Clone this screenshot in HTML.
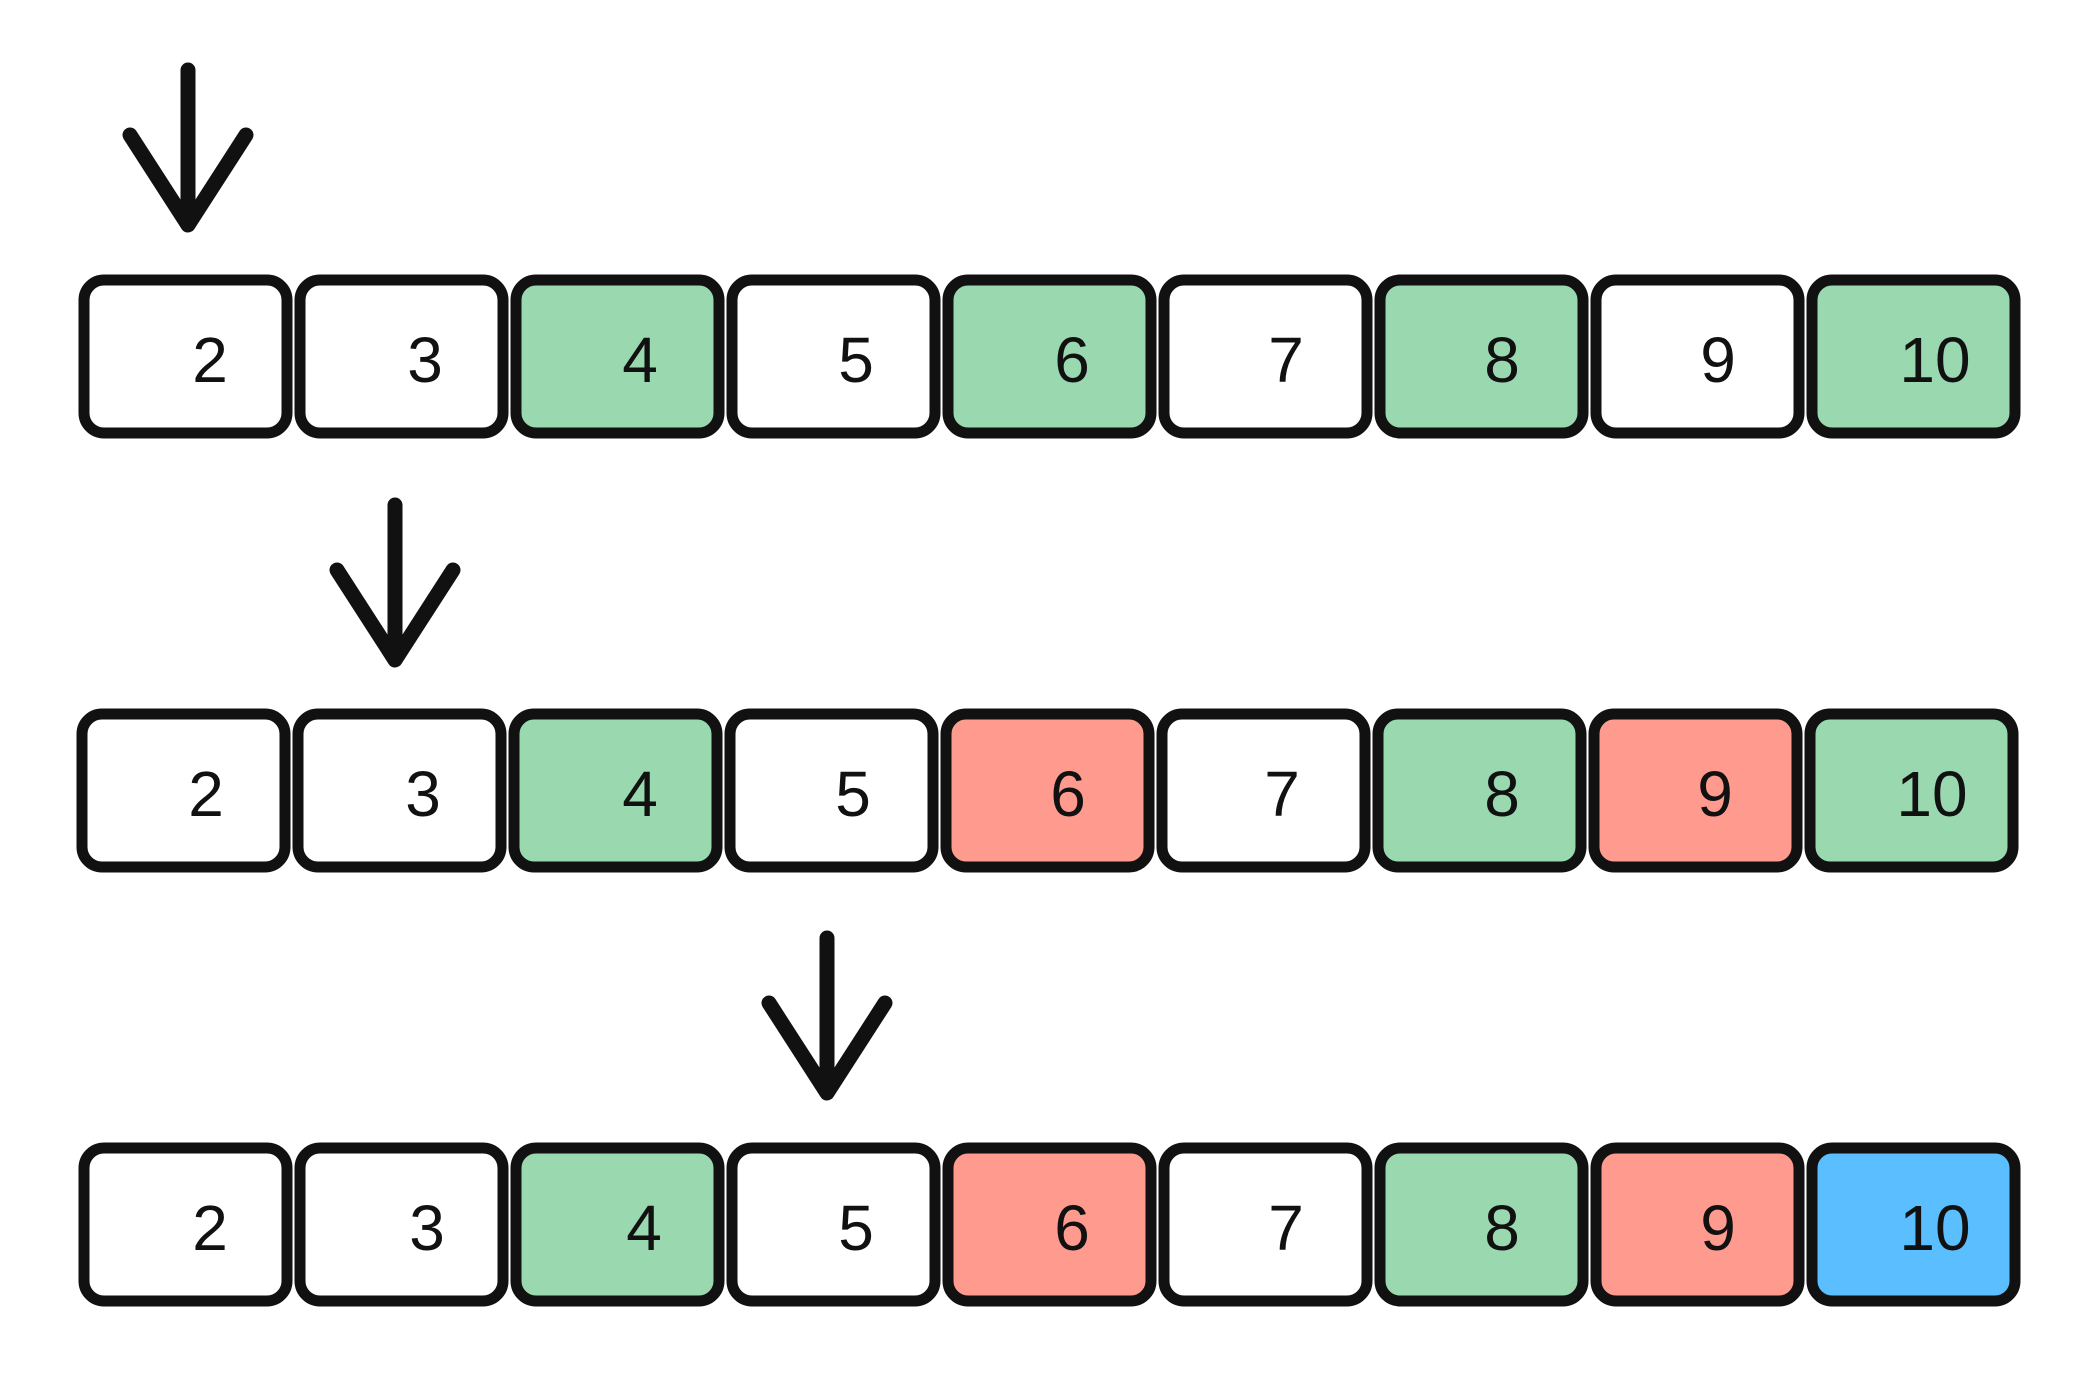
<!DOCTYPE html>
<html><head><meta charset="utf-8"><style>
html,body{margin:0;padding:0;background:#fff;}
svg{display:block;}
text{font-family:"Liberation Sans",sans-serif;font-size:64px;fill:#111;}
</style></head><body>
<svg width="2079" height="1378" viewBox="0 0 2079 1378" xmlns="http://www.w3.org/2000/svg">
<defs>
<g id="arrow" fill="none" stroke="#111" stroke-width="15" stroke-linecap="round" stroke-linejoin="round">
<line x1="0" y1="0" x2="0" y2="150"/>
<polyline points="-58,65 0,155 58,65"/>
</g>
</defs>
<use href="#arrow" x="188" y="70"/>
<use href="#arrow" x="395" y="505"/>
<use href="#arrow" x="827" y="938"/>
<!-- Row 1 -->
<g stroke="#111" stroke-width="11">
<rect x="84" y="280" width="203" height="153" rx="20" fill="#fff"/>
<rect x="300" y="280" width="203" height="153" rx="20" fill="#fff"/>
<rect x="516" y="280" width="203" height="153" rx="20" fill="#9ad8b0"/>
<rect x="732" y="280" width="203" height="153" rx="20" fill="#fff"/>
<rect x="948" y="280" width="203" height="153" rx="20" fill="#9ad8b0"/>
<rect x="1164" y="280" width="203" height="153" rx="20" fill="#fff"/>
<rect x="1380" y="280" width="203" height="153" rx="20" fill="#9ad8b0"/>
<rect x="1596" y="280" width="203" height="153" rx="20" fill="#fff"/>
<rect x="1812" y="280" width="203" height="153" rx="20" fill="#9ad8b0"/>
</g>
<g text-anchor="middle">
<text x="210" y="382">2</text><text x="425" y="382">3</text><text x="640" y="382">4</text>
<text x="856" y="382">5</text><text x="1072" y="382">6</text><text x="1286" y="382">7</text>
<text x="1502" y="382">8</text><text x="1718" y="382">9</text><text x="1935" y="382">10</text>
</g>
<!-- Row 2 -->
<g stroke="#111" stroke-width="11">
<rect x="82" y="714" width="203" height="153" rx="20" fill="#fff"/>
<rect x="298" y="714" width="203" height="153" rx="20" fill="#fff"/>
<rect x="514" y="714" width="203" height="153" rx="20" fill="#9ad8b0"/>
<rect x="730" y="714" width="203" height="153" rx="20" fill="#fff"/>
<rect x="946" y="714" width="203" height="153" rx="20" fill="#ff9a8f"/>
<rect x="1162" y="714" width="203" height="153" rx="20" fill="#fff"/>
<rect x="1378" y="714" width="203" height="153" rx="20" fill="#9ad8b0"/>
<rect x="1594" y="714" width="203" height="153" rx="20" fill="#ff9a8f"/>
<rect x="1810" y="714" width="203" height="153" rx="20" fill="#9ad8b0"/>
</g>
<g text-anchor="middle">
<text x="206" y="816">2</text><text x="423" y="816">3</text><text x="640" y="816">4</text>
<text x="853" y="816">5</text><text x="1068" y="816">6</text><text x="1282" y="816">7</text>
<text x="1502" y="816">8</text><text x="1715" y="816">9</text><text x="1932" y="816">10</text>
</g>
<!-- Row 3 -->
<g stroke="#111" stroke-width="11">
<rect x="84" y="1148" width="203" height="153" rx="20" fill="#fff"/>
<rect x="300" y="1148" width="203" height="153" rx="20" fill="#fff"/>
<rect x="516" y="1148" width="203" height="153" rx="20" fill="#9ad8b0"/>
<rect x="732" y="1148" width="203" height="153" rx="20" fill="#fff"/>
<rect x="948" y="1148" width="203" height="153" rx="20" fill="#ff9a8f"/>
<rect x="1164" y="1148" width="203" height="153" rx="20" fill="#fff"/>
<rect x="1380" y="1148" width="203" height="153" rx="20" fill="#9ad8b0"/>
<rect x="1596" y="1148" width="203" height="153" rx="20" fill="#ff9a8f"/>
<rect x="1812" y="1148" width="203" height="153" rx="20" fill="#5bbfff"/>
</g>
<g text-anchor="middle">
<text x="210" y="1250">2</text><text x="427" y="1250">3</text><text x="644" y="1250">4</text>
<text x="856" y="1250">5</text><text x="1072" y="1250">6</text><text x="1286" y="1250">7</text>
<text x="1502" y="1250">8</text><text x="1718" y="1250">9</text><text x="1935" y="1250">10</text>
</g>
</svg>
</body></html>
